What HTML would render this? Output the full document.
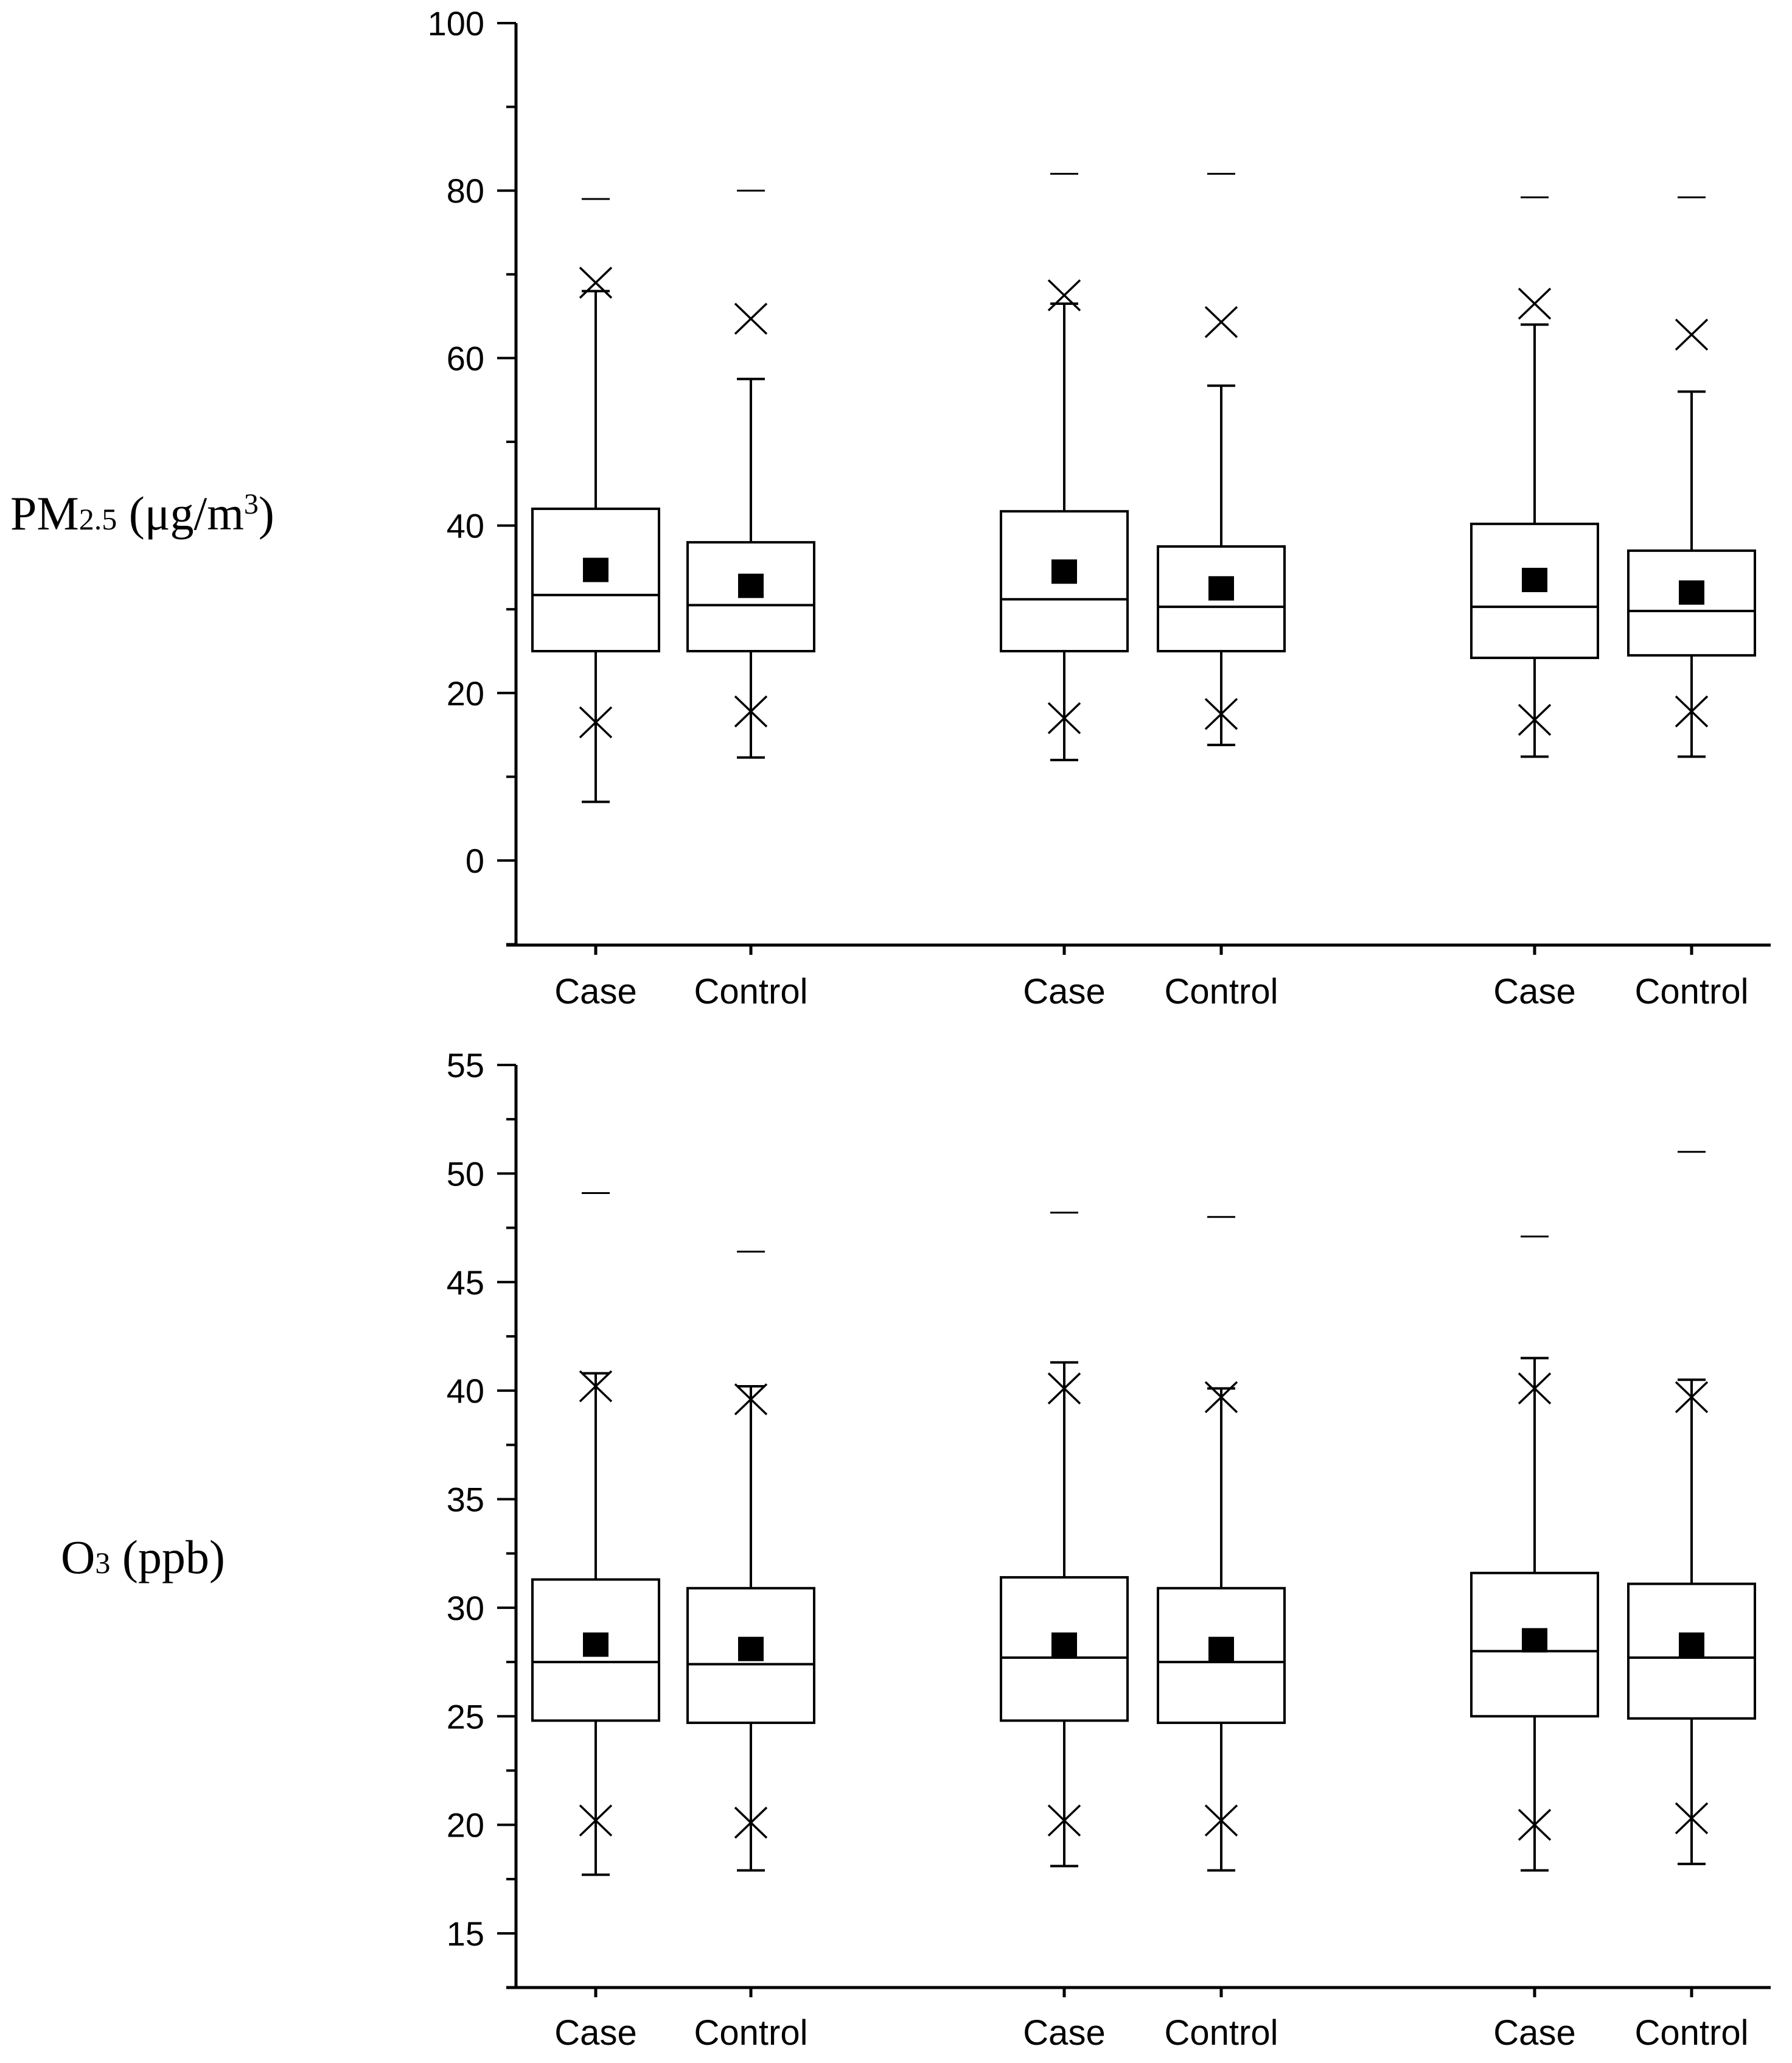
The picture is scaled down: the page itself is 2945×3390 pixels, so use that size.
<!DOCTYPE html>
<html><head><meta charset="utf-8"><style>
html,body{margin:0;padding:0;background:#fff;}
svg{display:block;}
</style></head><body>
<svg id="chart" width="2945" height="3390" viewBox="0 0 2945 3390" xmlns="http://www.w3.org/2000/svg">
<text x="17" y="870" font-family="Liberation Serif, serif" font-size="78">PM<tspan font-size="50">2.5</tspan> (μg/m<tspan font-size="48" dy="-26">3</tspan><tspan dy="26">)</tspan></text>
<text x="100" y="2585" font-family="Liberation Serif, serif" font-size="78">O<tspan font-size="50">3</tspan> (ppb)</text>
<g id="g"></g>
</svg>
<script>
const categories = ["Case","Control","Case","Control","Case","Control"];
// PM2.5 panel
const pmMax = [79, 80, 82, 82, 79.2, 79.2];
const pmP99 = [69, 64.7, 67.5, 64.3, 66.5, 62.8];
const pmWhiskHi = [68, 57.5, 66.5, 56.7, 64, 56];
const pmQ3 = [42, 38, 41.7, 37.5, 40.2, 37];
const pmMedian = [31.7, 30.5, 31.2, 30.3, 30.3, 29.8];
const pmMean = [34.7, 32.8, 34.5, 32.5, 33.5, 32];
const pmQ1 = [25, 25, 25, 25, 24.2, 24.5];
const pmP1 = [16.5, 17.8, 17, 17.5, 16.8, 17.8];
const pmWhiskLo = [7, 12.3, 12, 13.8, 12.4, 12.4];
const pmTicks = [0, 20, 40, 60, 80, 100];
// O3 panel
const o3Max = [49.1, 46.4, 48.2, 48.0, 47.1, 51];
const o3P99 = [40.2, 39.6, 40.1, 39.7, 40.1, 39.7];
const o3WhiskHi = [40.8, 40.2, 41.3, 40.1, 41.5, 40.5];
const o3Q3 = [31.3, 30.9, 31.4, 30.9, 31.6, 31.1];
const o3Median = [27.5, 27.4, 27.7, 27.5, 28, 27.7];
const o3Mean = [28.3, 28.1, 28.3, 28.1, 28.5, 28.3];
const o3Q1 = [24.8, 24.7, 24.8, 24.7, 25.0, 24.9];
const o3P1 = [20.2, 20.1, 20.2, 20.2, 20, 20.3];
const o3WhiskLo = [17.7, 17.9, 18.1, 17.9, 17.9, 18.2];
const o3Ticks = [15, 20, 25, 30, 35, 40, 45, 50, 55];

const NS = "http://www.w3.org/2000/svg";
const G = document.getElementById('g');
const xs = [979, 1234, 1749, 2007, 2522, 2780];
function xPos(i){ return xs[i]; }
function mk(tag, attrs, parent){
  const e = document.createElementNS(NS, tag);
  for (const k in attrs) e.setAttribute(k, attrs[k]);
  (parent||G).appendChild(e); return e;
}
function panel(p){
  const y = v => p.y0 + (v - p.v0) * (p.y1 - p.y0) / (p.v1 - p.v0);
  const grp = mk('g', {});
  
  
  const ax = mk('line', {x1:848, y1:p.axTop, x2:848, y2:p.axBot, stroke:'#000','stroke-width':5}, grp);
  
  
  const xa = mk('line', {x1:832, y1:p.axBot, x2:2910, y2:p.axBot, stroke:'#000','stroke-width':5}, grp);
  
  
  for (let v = p.minorStart; v <= p.v1 + 1e-9; v += p.minor) {
    const yy = y(v);
    const major = p.ticks.some(t => Math.abs(t - v) < 1e-6);
    mk('line', {x1: major?817:832, y1:yy, x2:848, y2:yy, stroke:'#000','stroke-width':4}, grp);
  }
  p.ticks.forEach(t => {
    const tx = mk('text', {x:796, y:y(t)+20, 'text-anchor':'end', 'font-family':'Liberation Sans, sans-serif','font-size':56}, grp);
    tx.textContent = t;
    
    
  });
  categories.forEach((c, i) => {
    const x = xPos(i);
    mk('line', {x1:x, y1:p.axBot, x2:x, y2:p.axBot+16, stroke:'#000','stroke-width':5}, grp);
    const lb = mk('text', {x:x, y:p.axBot+p.lblOff, 'text-anchor':'middle','font-family':'Liberation Sans, sans-serif','font-size':58}, grp);
    lb.textContent = c;
    
    
    const b = mk('g', {}, grp);
    
    
    const st = {stroke:'#000','stroke-width':4, fill:'none'};
    mk('line', Object.assign({x1:x, y1:y(p.wHi[i]), x2:x, y2:y(p.q3[i])}, st), b);
    mk('line', Object.assign({x1:x, y1:y(p.q1[i]), x2:x, y2:y(p.wLo[i])}, st), b);
    mk('line', Object.assign({x1:x-23, y1:y(p.wHi[i]), x2:x+23, y2:y(p.wHi[i])}, st), b);
    mk('line', Object.assign({x1:x-23, y1:y(p.wLo[i]), x2:x+23, y2:y(p.wLo[i])}, st), b);
    mk('rect', Object.assign({x:x-104, y:y(p.q3[i]), width:208, height:y(p.q1[i])-y(p.q3[i])}, st), b);
    mk('line', Object.assign({x1:x-104, y1:y(p.med[i]), x2:x+104, y2:y(p.med[i])}, st), b);
    mk('rect', {x:x-21, y:y(p.mean[i])-20, width:42, height:40, fill:'#000'}, b);
    mk('line', {x1:x-23, y1:y(p.mx[i]), x2:x+23, y2:y(p.mx[i]), stroke:'#000','stroke-width':3}, b);
    [p.p99[i], p.p1[i]].forEach(v => {
      const yy = y(v);
      mk('line', {x1:x-26, y1:yy-25, x2:x+26, y2:yy+25, stroke:'#000','stroke-width':3.5}, b);
      mk('line', {x1:x-26, y1:yy+25, x2:x+26, y2:yy-25, stroke:'#000','stroke-width':3.5}, b);
    });
  });
}
panel({name:'pm25-panel', v0:0, y0:1414, v1:100, y1:38, axTop:38, axBot:1553, minor:10, minorStart:-10, lblOff:96,
  ticks:pmTicks, mx:pmMax, p99:pmP99, wHi:pmWhiskHi, q3:pmQ3, med:pmMedian, mean:pmMean, q1:pmQ1, p1:pmP1, wLo:pmWhiskLo});
panel({name:'o3-panel', v0:15, y0:3177, v1:55, y1:1750, axTop:1750, axBot:3266, minor:2.5, minorStart:15, lblOff:94,
  ticks:o3Ticks, mx:o3Max, p99:o3P99, wHi:o3WhiskHi, q3:o3Q3, med:o3Median, mean:o3Mean, q1:o3Q1, p1:o3P1, wLo:o3WhiskLo});
</script>
</body></html>
